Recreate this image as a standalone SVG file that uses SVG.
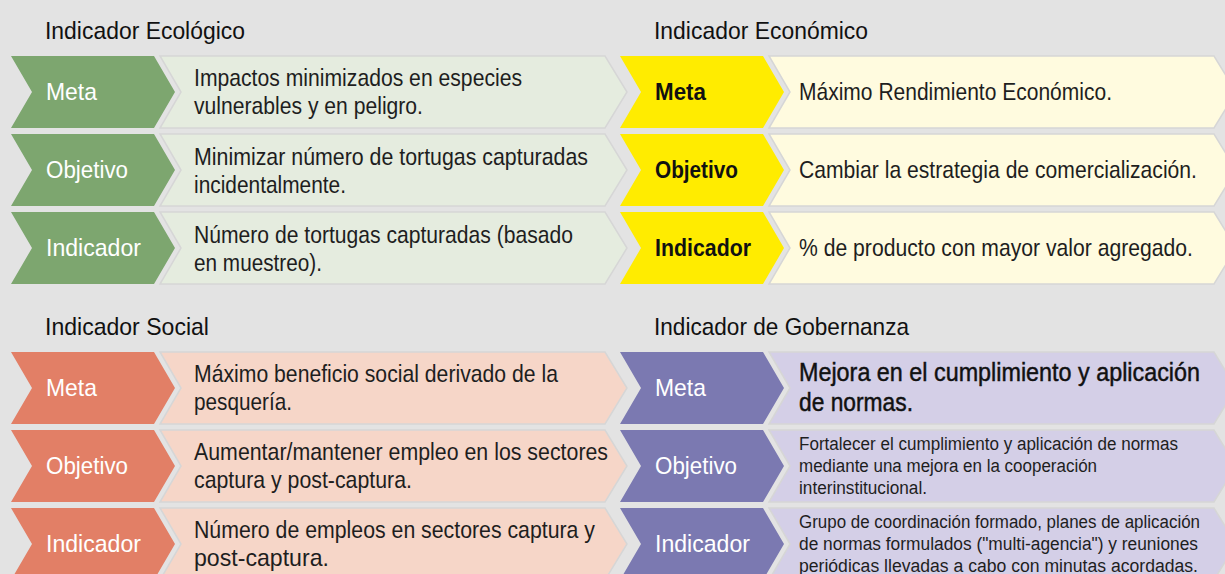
<svg xmlns="http://www.w3.org/2000/svg" xmlns:xlink="http://www.w3.org/1999/xlink" width="1225" height="574" viewBox="0 0 1225 574">
<style>
text{font-family:"Liberation Sans Narrow","Liberation Sans",Roboto,sans-serif;}
.title{font-size:24px;fill:#111;}
.lab{font-size:24px;fill:#fff;}
.labk{font-size:24px;fill:#111;font-weight:bold;}
.body{font-size:24px;fill:#1e1e1e;}
.small{font-size:19px;fill:#1e1e1e;}
.bold{font-size:25px;fill:#111;stroke:#111;stroke-width:0.45;}
.pan{stroke:#d6d6d6;stroke-width:1.5;}
</style>
<defs>
<polygon id="chev" points="0,0 143,0 164,36 143,72 0,72 21,36"/>
<polygon id="panel" points="0,0 445,0 467,36 445,72 0,72 21,36"/>
</defs>
<rect width="1225" height="574" fill="#e3e3e3"/>
<g id="connectors"></g>

<g id="eco">
<text class="title" transform="translate(45,39) scale(0.84,1)" textLength="238.1" lengthAdjust="spacingAndGlyphs">Indicador Ecológico</text>
<g id="eco-meta">
<use xlink:href="#chev" x="11" y="56" fill="#7da66f"/>
<use xlink:href="#panel" x="160" y="56" fill="#e5ecdf" class="pan"/>
<text class="lab" transform="translate(46,100) scale(0.84,1)" textLength="60.7" lengthAdjust="spacingAndGlyphs">Meta</text>
<text class="body" transform="translate(194,86) scale(0.84,1)" textLength="390.5" lengthAdjust="spacingAndGlyphs">Impactos minimizados en especies</text>
<text class="body" transform="translate(194,114) scale(0.84,1)" textLength="272.6" lengthAdjust="spacingAndGlyphs">vulnerables y en peligro.</text>
</g>
<g id="eco-obj">
<use xlink:href="#chev" x="11" y="134" fill="#7da66f"/>
<use xlink:href="#panel" x="160" y="134" fill="#e5ecdf" class="pan"/>
<text class="lab" transform="translate(46,178) scale(0.84,1)" textLength="97.6" lengthAdjust="spacingAndGlyphs">Objetivo</text>
<text class="body" transform="translate(194,165) scale(0.84,1)" textLength="469" lengthAdjust="spacingAndGlyphs">Minimizar número de tortugas capturadas</text>
<text class="body" transform="translate(194,193) scale(0.84,1)" textLength="181" lengthAdjust="spacingAndGlyphs">incidentalmente.</text>
</g>
<g id="eco-ind">
<use xlink:href="#chev" x="11" y="212" fill="#7da66f"/>
<use xlink:href="#panel" x="160" y="212" fill="#e5ecdf" class="pan"/>
<text class="lab" transform="translate(46,256) scale(0.84,1)" textLength="113.1" lengthAdjust="spacingAndGlyphs">Indicador</text>
<text class="body" transform="translate(194,243) scale(0.84,1)" textLength="451.2" lengthAdjust="spacingAndGlyphs">Número de tortugas capturadas (basado</text>
<text class="body" transform="translate(194,271) scale(0.84,1)" textLength="152.4" lengthAdjust="spacingAndGlyphs">en muestreo).</text>
</g>
</g>

<g id="econ">
<text class="title" transform="translate(654,39) scale(0.84,1)" textLength="254.8" lengthAdjust="spacingAndGlyphs">Indicador Económico</text>
<g id="econ-meta">
<use xlink:href="#chev" x="620" y="56" fill="#ffec00"/>
<use xlink:href="#panel" x="769" y="56" fill="#fffbdf" class="pan"/>
<text class="labk" transform="translate(655,100) scale(0.84,1)" textLength="60.7" lengthAdjust="spacingAndGlyphs">Meta</text>
<text class="body" transform="translate(799,100) scale(0.84,1)" textLength="372.6" lengthAdjust="spacingAndGlyphs">Máximo Rendimiento Económico.</text>
</g>
<g id="econ-obj">
<use xlink:href="#chev" x="620" y="134" fill="#ffec00"/>
<use xlink:href="#panel" x="769" y="134" fill="#fffbdf" class="pan"/>
<text class="labk" transform="translate(655,178) scale(0.84,1)" textLength="98.8" lengthAdjust="spacingAndGlyphs">Objetivo</text>
<text class="body" transform="translate(799,178) scale(0.84,1)" textLength="473.8" lengthAdjust="spacingAndGlyphs">Cambiar la estrategia de comercialización.</text>
</g>
<g id="econ-ind">
<use xlink:href="#chev" x="620" y="212" fill="#ffec00"/>
<use xlink:href="#panel" x="769" y="212" fill="#fffbdf" class="pan"/>
<text class="labk" transform="translate(655,256) scale(0.84,1)" textLength="114.3" lengthAdjust="spacingAndGlyphs">Indicador</text>
<text class="body" transform="translate(799,256) scale(0.84,1)" textLength="469" lengthAdjust="spacingAndGlyphs">% de producto con mayor valor agregado.</text>
</g>
</g>

<g id="soc">
<text class="title" transform="translate(45,335) scale(0.84,1)" textLength="195.2" lengthAdjust="spacingAndGlyphs">Indicador Social</text>
<g id="soc-meta">
<use xlink:href="#chev" x="11" y="352" fill="#e27f66"/>
<use xlink:href="#panel" x="160" y="352" fill="#f6d6c8" class="pan"/>
<text class="lab" transform="translate(46,396) scale(0.84,1)" textLength="60.7" lengthAdjust="spacingAndGlyphs">Meta</text>
<text class="body" transform="translate(194,382) scale(0.84,1)" textLength="433.3" lengthAdjust="spacingAndGlyphs">Máximo beneficio social derivado de la</text>
<text class="body" transform="translate(194,410) scale(0.84,1)" textLength="116.7" lengthAdjust="spacingAndGlyphs">pesquería.</text>
</g>
<g id="soc-obj">
<use xlink:href="#chev" x="11" y="430" fill="#e27f66"/>
<use xlink:href="#panel" x="160" y="430" fill="#f6d6c8" class="pan"/>
<text class="lab" transform="translate(46,474) scale(0.84,1)" textLength="97.6" lengthAdjust="spacingAndGlyphs">Objetivo</text>
<text class="body" transform="translate(194,460) scale(0.84,1)" textLength="492.9" lengthAdjust="spacingAndGlyphs">Aumentar/mantener empleo en los sectores</text>
<text class="body" transform="translate(194,488) scale(0.84,1)" textLength="259.5" lengthAdjust="spacingAndGlyphs">captura y post-captura.</text>
</g>
<g id="soc-ind">
<use xlink:href="#chev" x="11" y="508" fill="#e27f66"/>
<use xlink:href="#panel" x="160" y="508" fill="#f6d6c8" class="pan"/>
<text class="lab" transform="translate(46,552) scale(0.84,1)" textLength="113.1" lengthAdjust="spacingAndGlyphs">Indicador</text>
<text class="body" transform="translate(194,538) scale(0.84,1)" textLength="477.4" lengthAdjust="spacingAndGlyphs">Número de empleos en sectores captura y</text>
<text class="body" transform="translate(194,566) scale(0.84,1)" textLength="160.7" lengthAdjust="spacingAndGlyphs">post-captura.</text>
</g>
</g>

<g id="gob">
<text class="title" transform="translate(654,335) scale(0.84,1)" textLength="303.6" lengthAdjust="spacingAndGlyphs">Indicador de Gobernanza</text>
<g id="gob-meta">
<use xlink:href="#chev" x="620" y="352" fill="#7b79b1"/>
<use xlink:href="#panel" x="769" y="352" fill="#d4cfe7" class="pan"/>
<text class="lab" transform="translate(655,396) scale(0.84,1)" textLength="60.7" lengthAdjust="spacingAndGlyphs">Meta</text>
<text class="bold" transform="translate(799,381) scale(0.84,1)" textLength="477.4" lengthAdjust="spacingAndGlyphs">Mejora en el cumplimiento y aplicación</text>
<text class="bold" transform="translate(799,411) scale(0.84,1)" textLength="135.7" lengthAdjust="spacingAndGlyphs">de normas.</text>
</g>
<g id="gob-obj">
<use xlink:href="#chev" x="620" y="430" fill="#7b79b1"/>
<use xlink:href="#panel" x="769" y="430" fill="#d4cfe7" class="pan"/>
<text class="lab" transform="translate(655,474) scale(0.84,1)" textLength="97.6" lengthAdjust="spacingAndGlyphs">Objetivo</text>
<text class="small" transform="translate(799,450) scale(0.84,1)" textLength="451.2" lengthAdjust="spacingAndGlyphs">Fortalecer el cumplimiento y aplicación de normas</text>
<text class="small" transform="translate(799,472) scale(0.84,1)" textLength="354.8" lengthAdjust="spacingAndGlyphs">mediante una mejora en la cooperación</text>
<text class="small" transform="translate(799,494) scale(0.84,1)" textLength="152.4" lengthAdjust="spacingAndGlyphs">interinstitucional.</text>
</g>
<g id="gob-ind">
<use xlink:href="#chev" x="620" y="508" fill="#7b79b1"/>
<use xlink:href="#panel" x="769" y="508" fill="#d4cfe7" class="pan"/>
<text class="lab" transform="translate(655,552) scale(0.84,1)" textLength="113.1" lengthAdjust="spacingAndGlyphs">Indicador</text>
<text class="small" transform="translate(799,528) scale(0.84,1)" textLength="477.4" lengthAdjust="spacingAndGlyphs">Grupo de coordinación formado, planes de aplicación</text>
<text class="small" transform="translate(799,550) scale(0.84,1)" textLength="475" lengthAdjust="spacingAndGlyphs">de normas formulados ("multi-agencia") y reuniones</text>
<text class="small" transform="translate(799,572) scale(0.84,1)" textLength="475" lengthAdjust="spacingAndGlyphs">periódicas llevadas a cabo con minutas acordadas.</text>
</g>
</g>
</svg>
